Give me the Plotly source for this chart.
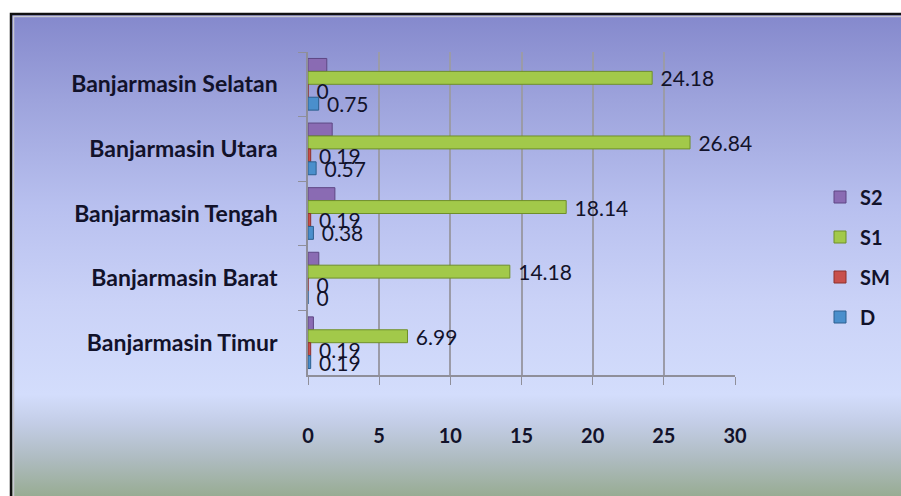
import base64
import plotly.graph_objects as go

# Districts (top to bottom) and values per education level
districts = [
    "Banjarmasin Selatan",
    "Banjarmasin Utara",
    "Banjarmasin Tengah",
    "Banjarmasin Barat",
    "Banjarmasin Timur",
]
s2_values = [1.32, 1.70, 1.89, 0.76, 0.38]
s1_values = [24.18, 26.84, 18.14, 14.18, 6.99]
sm_values = [0, 0.19, 0.19, 0, 0.19]
d_values = [0.75, 0.57, 0.38, 0, 0.19]
x_ticks = [0, 5, 10, 15, 20, 25, 30]

W, H = 901, 496
L, R, T, B = 308, 166, 52, 121

series = [
    ("S2", s2_values, "#8a6bb3", "#5e4784", False),
    ("S1", s1_values, "#a2c94a", "#6f8f2a", True),
    ("SM", sm_values, "#c8504c", "#8c302d", True),
    ("D", d_values, "#4a8fcc", "#2c5f8f", True),
]

fig = go.Figure()
for name, vals, color, edge, labelled in series:
    fig.add_trace(go.Bar(
        name=name,
        legendgroup=name,
        y=districts,
        x=vals,
        orientation="h",
        marker=dict(color=color, line=dict(color=edge, width=1)),
        texttemplate="\u00a0%{x}" if labelled else None,
        textposition="outside" if labelled else "none",
        textfont=dict(family="Lato", size=21, color="#12122a"),
        constraintext="none",
        cliponaxis=False,
    ))

# Framed gradient backdrop (blue-violet fading to pale blue, then sage at the foot)
svg = f"""<svg xmlns='http://www.w3.org/2000/svg' width='{W}' height='{H}' viewBox='0 0 {W} {H}' preserveAspectRatio='none'>
<defs><linearGradient id='g' x1='0' y1='13' x2='0' y2='{H}' gradientUnits='userSpaceOnUse'>
<stop offset='0' stop-color='#8488cc'/>
<stop offset='0.18' stop-color='#9da3dc'/>
<stop offset='0.40' stop-color='#b8c0ef'/>
<stop offset='0.60' stop-color='#cad2f7'/>
<stop offset='0.79' stop-color='#d3ddfc'/>
<stop offset='0.85' stop-color='#c3cde6'/>
<stop offset='0.92' stop-color='#afbcc2'/>
<stop offset='1' stop-color='#98ac93'/>
</linearGradient></defs>
<rect x='0' y='0' width='{W}' height='{H}' fill='#ffffff'/>
<rect x='11' y='14' width='{W + 10}' height='{H + 10}' fill='url(#g)' stroke='#111111' stroke-width='2.5'/>
<rect x='13.5' y='16.5' width='{W + 10}' height='{H + 10}' fill='none' stroke='#c8c8d0' stroke-width='1.5'/>
</svg>"""
src = "data:image/svg+xml;base64," + base64.b64encode(svg.encode()).decode()

pw, ph = W - L - R, H - T - B
fig.add_layout_image(dict(
    source=src, xref="paper", yref="paper",
    x=-L / pw, y=1 + T / ph, sizex=W / pw, sizey=H / ph,
    xanchor="left", yanchor="top", sizing="stretch", layer="below",
))

fig.update_layout(
    width=W, height=H,
    margin=dict(l=L, r=R, t=T, b=B, pad=0, autoexpand=False),
    paper_bgcolor="#ffffff",
    plot_bgcolor="rgba(0,0,0,0)",
    barmode="group",
    bargap=0.2,
    bargroupgap=0,
    font=dict(family="Lato", color="#12122a"),
    legend=dict(
        x=(820 - L) / pw, y=(H - B - 257) / ph,
        xanchor="left", yanchor="middle",
        font=dict(family="Lato", size=20, color="#12122a", weight="bold"),
        bgcolor="rgba(0,0,0,0)",
        tracegroupgap=11,
        itemwidth=30,
    ),
    xaxis=dict(
        range=[0, 30],
        tickvals=x_ticks,
        showgrid=True, gridcolor="#9b9ba8", gridwidth=1.5,
        showline=True, linecolor="#8f8f9a", linewidth=1.5,
        ticks="outside", ticklen=8, tickcolor="#8f8f9a",
        tickfont=dict(family="Lato", size=20, color="#12122a", weight="bold"),
        ticklabelstandoff=34,
        zeroline=False,
    ),
    yaxis=dict(
        categoryorder="array", categoryarray=districts,
        autorange="reversed",
        showline=True, linecolor="#8f8f9a", linewidth=1.5,
        ticks="outside", ticklen=8, tickcolor="#8f8f9a",
        tickson="boundaries",
        tickfont=dict(family="Lato", size=23, color="#12122a", weight="bold"),
        ticklabelstandoff=24,
        showgrid=False,
    ),
)

fig.write_html("out.html")
